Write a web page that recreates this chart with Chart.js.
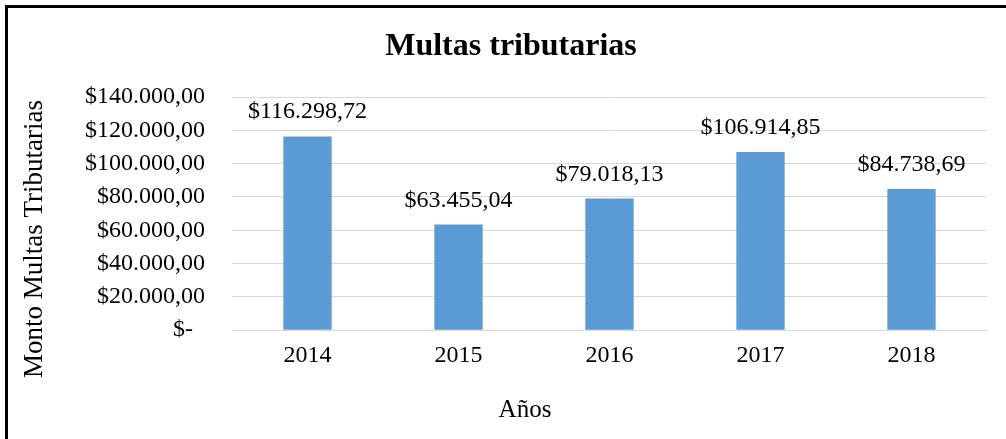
<!DOCTYPE html>
<html>
<head>
<meta charset="utf-8">
<script src="https://cdn.jsdelivr.net/npm/chart.js@4.4.1/dist/chart.umd.min.js"></script>
<style>
    html, body { margin: 0; padding: 0; background: #fff; }
    #wrap { position: relative; width: 1006px; height: 439px; overflow: hidden; }
    #frame { position: absolute; left: 5px; top: 5px; width: 1100px; height: 500px;
             border-left: 3px solid #000; border-top: 3px solid #000; box-sizing: border-box; }
    #chart { position: absolute; left: 0; top: 0; }
</style>
</head>
<body>
<div id="wrap">
    <canvas id="chart" width="1006" height="439"></canvas>
    <div id="frame"></div>
</div>
<script>
// datos
const years = ["2014", "2015", "2016", "2017", "2018"];
const multas = [116298.72, 63455.04, 79018.13, 106914.85, 84738.69];
const yTicks = [0, 20000, 40000, 60000, 80000, 100000, 120000, 140000];

const chartTitle = "Multas tributarias";
const yTitle = "Monto Multas Tributarias";
const xTitle = "Años";

const serif = "'Liberation Serif', 'Times New Roman', serif";

function fmtMoney(v) {
    if (v === 0) return "$-  ";
    const parts = v.toFixed(2).split(".");
    const ent = parts[0].replace(/\B(?=(\d{3})+(?!\d))/g, ".");
    return "$" + ent + "," + parts[1];
}

// etiquetas sobre las barras
const barLabels = {
    id: "barLabels",
    afterDatasetsDraw(chart) {
        const ctx = chart.ctx;
        const meta = chart.getDatasetMeta(0);
        ctx.save();
        ctx.font = "24px " + serif;
        ctx.fillStyle = "#000";
        ctx.textAlign = "center";
        ctx.textBaseline = "alphabetic";
        meta.data.forEach((bar, i) => {
            ctx.fillText(fmtMoney(multas[i]), bar.x, bar.y - 18);
        });
        ctx.restore();
    }
};

// titulos (como en excel, no centrados en el area del grafico)
const titles = {
    id: "titles",
    afterDraw(chart) {
        const ctx = chart.ctx;
        ctx.save();
        ctx.fillStyle = "#000";
        ctx.textAlign = "center";
        ctx.textBaseline = "middle";

        ctx.font = "bold 32px " + serif;
        ctx.fillText(chartTitle, 511, 47);

        ctx.font = "25px " + serif;
        ctx.fillText(xTitle, 525, 410);

        ctx.translate(35, 239);
        ctx.rotate(-Math.PI / 2);
        ctx.font = "27px " + serif;
        ctx.fillText(yTitle, 0, 0);
        ctx.restore();
    }
};

new Chart(document.getElementById("chart"), {
    type: "bar",
    data: {
        labels: years,
        datasets: [{
            data: multas,
            backgroundColor: "#5B9BD5",
            barPercentage: 0.64,
            categoryPercentage: 0.5
        }]
    },
    options: {
        responsive: false,
        animation: false,
        layout: { padding: { left: 8, right: 19, top: 97, bottom: 66 } },
        plugins: {
            legend: { display: false },
            tooltip: { enabled: false },
            title: { display: false }
        },
        scales: {
            x: {
                grid: { display: false },
                border: { color: "#d9d9d9", width: 1 },
                ticks: { color: "#000", font: { family: serif, size: 24 }, padding: 3 }
            },
            y: {
                min: 0,
                max: 140000,
                afterBuildTicks: scale => { scale.ticks = yTicks.map(v => ({ value: v })); },
                afterFit: scale => { scale.width = 224; },
                grid: { color: "#d9d9d9", drawTicks: false },
                border: { display: false },
                ticks: {
                    autoSkip: false,
                    color: "#000",
                    font: { family: serif, size: 24 },
                    padding: 27,
                    callback: v => fmtMoney(v)
                }
            }
        }
    },
    plugins: [barLabels, titles]
});
</script>
</body>
</html>
